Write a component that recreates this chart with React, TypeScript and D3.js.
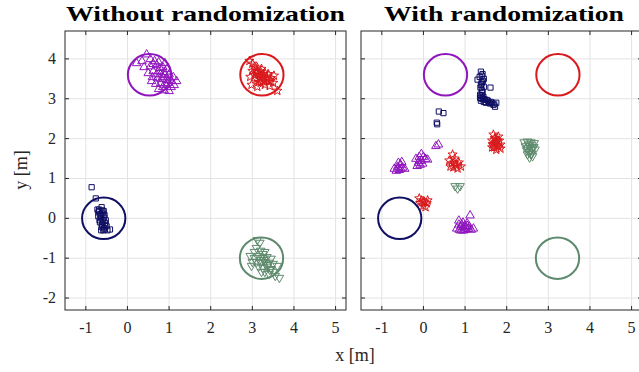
import React from 'react';
import * as d3 from 'd3';

type Pt = [number, number];

const xTicks = [-1, 0, 1, 2, 3, 4, 5];
const yTicks = [-2, -1, 0, 1, 2, 3, 4];
const titles = ['Without randomization', 'With randomization'];

// target circles (x, y) and radius [m]
const targets: { name: string; c: Pt }[] = [
  { name: 'blue', c: [-0.57, 0.0] },
  { name: 'purple', c: [0.53, 3.6] },
  { name: 'red', c: [3.23, 3.6] },
  { name: 'green', c: [3.22, -1.0] },
];
const targetRadius = 0.52;

const colors: Record<string, string> = {
  blue: '#0f0f63',
  purple: '#8f16bd',
  red: '#d9191c',
  green: '#5d8a6c',
};

// ---- without randomization ----
const blueL: Pt[] = [
  [-0.86, 0.78], [-0.76, 0.5], [-0.72, 0.22], [-0.68, 0.18], [-0.62, 0.28], [-0.58, 0.12],
  [-0.7, 0.05], [-0.64, 0.0], [-0.6, -0.05], [-0.56, 0.02], [-0.66, -0.1], [-0.6, -0.15],
  [-0.54, -0.12], [-0.62, -0.22], [-0.56, -0.25], [-0.5, -0.2], [-0.58, -0.3], [-0.48, -0.3],
  [-0.42, -0.28], [-0.7, 0.15], [-0.65, 0.1], [-0.55, 0.08], [-0.67, -0.05], [-0.52, -0.05],
  [-0.6, 0.2], [-0.63, -0.3], [-0.64, 0.06], [-0.58, -0.08], [-0.61, -0.18], [-0.53, -0.18],
  [-0.68, 0.22], [-0.57, 0.18], [-0.62, 0.12], [-0.55, -0.28],
];
const purpleL: Pt[] = [
  [0.46, 4.12], [0.22, 3.9], [0.35, 3.95], [0.55, 4.0], [0.65, 3.95], [0.75, 3.92], [0.4, 3.8],
  [0.55, 3.82], [0.7, 3.85], [0.85, 3.8], [0.95, 3.75], [0.5, 3.65], [0.62, 3.7], [0.75, 3.7],
  [0.88, 3.68], [1.0, 3.62], [1.1, 3.55], [0.6, 3.55], [0.72, 3.52], [0.85, 3.55], [0.95, 3.48],
  [1.05, 3.45], [1.18, 3.45], [0.68, 3.38], [0.8, 3.4], [0.92, 3.35], [1.05, 3.3], [0.75, 3.25],
  [0.88, 3.22], [1.0, 3.2], [0.58, 3.45], [0.8, 3.62], [0.9, 3.9], [1.12, 3.35], [0.82, 3.5],
  [0.9, 3.6], [0.98, 3.4], [0.7, 3.62], [0.78, 3.78], [0.62, 3.88], [1.02, 3.52], [0.85, 3.3],
];
const redL: Pt[] = [
  [2.93, 3.95], [3.0, 3.88], [3.05, 3.8], [3.12, 3.78], [3.0, 3.7], [3.1, 3.7], [3.2, 3.68],
  [3.3, 3.65], [3.05, 3.6], [3.15, 3.6], [3.25, 3.58], [3.35, 3.55], [3.45, 3.52], [3.52, 3.58],
  [3.1, 3.5], [3.2, 3.5], [3.3, 3.45], [3.4, 3.42], [3.5, 3.4], [3.2, 3.4], [3.3, 3.35],
  [2.98, 3.35], [3.12, 3.3], [3.6, 3.2], [3.38, 3.62], [3.22, 3.75], [3.15, 3.42], [3.42, 3.32],
  [2.95, 3.55], [3.28, 3.52], [3.08, 3.65], [3.18, 3.55], [3.26, 3.62], [3.36, 3.48],
  [3.14, 3.66], [3.24, 3.44], [3.44, 3.45],
];
const greenL: Pt[] = [
  [3.12, -0.55], [3.18, -0.62], [3.1, -0.75], [3.05, -0.85], [3.2, -0.82], [3.3, -0.85],
  [2.95, -0.95], [3.05, -1.0], [3.15, -0.95], [3.25, -1.0], [3.35, -0.98], [3.45, -1.02],
  [3.0, -1.1], [3.1, -1.1], [3.2, -1.12], [3.3, -1.1], [3.4, -1.12], [3.5, -1.15], [3.15, -1.22],
  [3.25, -1.25], [3.35, -1.22], [3.45, -1.28], [3.3, -1.35], [3.4, -1.4], [3.5, -1.35],
  [3.65, -1.5], [3.55, -1.45], [2.98, -1.2], [3.22, -1.35], [3.6, -1.2], [3.28, -1.05],
  [3.38, -1.18], [3.18, -1.05], [3.42, -1.3], [3.25, -0.9],
];

// ---- with randomization ----
const blueR: Pt[] = [
  [1.38, 3.68], [1.42, 3.62], [1.35, 3.55], [1.45, 3.5], [1.3, 3.48], [1.4, 3.42], [1.38, 3.35],
  [1.45, 3.3], [1.61, 3.28], [1.4, 3.22], [1.42, 3.15], [1.36, 3.1], [1.44, 3.05], [1.4, 3.0],
  [1.48, 2.98], [1.55, 2.95], [1.5, 2.9], [1.6, 2.88], [1.68, 2.85], [1.72, 2.8], [1.75, 2.9],
  [1.38, 2.95], [1.45, 2.92], [1.62, 2.92], [1.4, 3.58], [1.43, 3.45], [1.37, 3.28],
  [1.41, 3.18], [1.39, 3.08], [1.43, 3.0], [1.52, 2.97], [1.58, 2.9], [1.65, 2.9], [1.7, 2.86],
  [1.46, 2.98], [1.4, 3.38], [1.36, 3.02],
  [0.37, 2.68], [0.48, 2.64], [0.32, 2.4], [0.33, 2.36],
];
const purpleR: Pt[] = [
  [-0.7, 1.25], [-0.62, 1.3], [-0.55, 1.35], [-0.65, 1.2], [-0.5, 1.28], [-0.58, 1.22],
  [-0.45, 1.25], [-0.6, 1.4], [-0.52, 1.42], [-0.6, 1.28], [-0.54, 1.25],
  [-0.18, 1.5], [-0.1, 1.55], [-0.05, 1.62], [0.0, 1.55], [-0.12, 1.4], [-0.05, 1.45],
  [0.05, 1.5], [-0.15, 1.32], [-0.08, 1.35], [0.1, 1.48], [-0.1, 1.45], [-0.02, 1.38],
  [0.3, 1.82], [0.36, 1.86],
  [0.8, -0.25], [0.85, -0.15], [0.9, -0.2], [0.95, -0.1], [1.0, -0.18], [1.05, -0.12],
  [1.1, -0.2], [0.9, -0.3], [1.0, -0.28], [1.15, -0.28], [1.2, -0.25], [1.12, 0.08],
  [0.85, -0.05], [0.97, -0.22], [0.92, -0.15], [1.02, -0.22], [1.08, -0.26], [0.86, -0.28],
  [0.96, -0.3], [1.05, -0.18],
];
const redR: Pt[] = [
  [0.62, 1.45], [0.7, 1.6], [0.75, 1.5], [0.68, 1.38], [0.78, 1.35], [0.85, 1.4], [0.72, 1.28],
  [0.82, 1.25], [0.9, 1.3], [0.65, 1.3], [0.74, 1.4], [0.8, 1.32],
  [-0.1, 0.5], [-0.05, 0.45], [0.02, 0.42], [0.08, 0.38], [0.0, 0.32], [0.05, 0.28],
  [-0.08, 0.38], [0.1, 0.45], [0.0, 0.4],
  [1.68, 2.1], [1.72, 2.02], [1.65, 1.95], [1.75, 1.92], [1.82, 1.95], [1.7, 1.85], [1.78, 1.82],
  [1.85, 1.85], [1.65, 1.78], [1.75, 1.72], [1.85, 1.75], [1.8, 2.05], [1.72, 1.9],
  [1.78, 1.95], [1.7, 1.78], [1.8, 1.8], [1.74, 1.98], [1.66, 1.86],
];
const greenR: Pt[] = [
  [2.42, 1.9], [2.5, 1.92], [2.58, 1.9], [2.66, 1.88], [2.45, 1.8], [2.55, 1.8], [2.65, 1.78],
  [2.48, 1.7], [2.58, 1.7], [2.68, 1.72], [2.5, 1.6], [2.6, 1.62], [2.55, 1.52], [2.62, 1.55],
  [2.52, 1.85], [2.6, 1.84], [2.5, 1.75], [2.62, 1.75], [2.54, 1.65], [2.58, 1.6],
  [0.76, 0.8], [0.88, 0.8], [0.82, 0.74],
];

const panels = [
  { blue: blueL, purple: purpleL, red: redL, green: greenL },
  { blue: blueR, purple: purpleR, red: redR, green: greenR },
];

const W = 639;
const H = 372;
const panelX: [number, number][] = [[65, 346], [361, 642]];
const top = 31;
const bottom = 310;
const font = "'Liberation Serif', 'DejaVu Serif', serif";

function markerPath(kind: string): string {
  if (kind === 'blue') return 'M-2.6,-2.6H2.6V2.6H-2.6Z';
  if (kind === 'purple') return 'M0,-4.6L4.3,2.8H-4.3Z';
  if (kind === 'green') return 'M0,4.6L4.3,-2.8H-4.3Z';
  // pentagram
  const pts: string[] = [];
  for (let i = 0; i < 10; i++) {
    const r = i % 2 === 0 ? 4.8 : 2.0;
    const a = -Math.PI / 2 + (i * Math.PI) / 5;
    pts.push(`${(r * Math.cos(a)).toFixed(2)},${(r * Math.sin(a)).toFixed(2)}`);
  }
  return 'M' + pts.join('L') + 'Z';
}

function Panel({ idx }: { idx: number }) {
  const [x0, x1] = panelX[idx];
  const x = d3.scaleLinear().domain([-1.5, 5.25]).range([x0, x1]);
  const y = d3.scaleLinear().domain([-2.3, 4.7]).range([bottom, top]);
  const data = panels[idx] as Record<string, Pt[]>;
  const order = ['blue', 'purple', 'red', 'green'];
  return (
    <g>
      <rect x={x0} y={top} width={x1 - x0} height={bottom - top} fill="#fff" />
      {xTicks.map(t => (
        <line key={'gx' + t} x1={x(t)} x2={x(t)} y1={top} y2={bottom} stroke="#e3e3e3" strokeWidth={1} />
      ))}
      {yTicks.map(t => (
        <line key={'gy' + t} x1={x0} x2={x1} y1={y(t)} y2={y(t)} stroke="#e3e3e3" strokeWidth={1} />
      ))}
      {order.map(k => (
        <g key={k} fill="none" stroke={colors[k]} strokeWidth={1}>
          {data[k].map((p, i) => (
            <path key={i} d={markerPath(k)} transform={`translate(${x(p[0])},${y(p[1])})`} />
          ))}
        </g>
      ))}
      {targets.map(t => (
        <ellipse
          key={t.name}
          cx={x(t.c[0])}
          cy={y(t.c[1])}
          rx={x(t.c[0] + targetRadius) - x(t.c[0])}
          ry={y(t.c[1]) - y(t.c[1] + targetRadius)}
          fill="none"
          stroke={colors[t.name]}
          strokeWidth={2}
        />
      ))}
      <rect x={x0} y={top} width={x1 - x0} height={bottom - top} fill="none" stroke="#262626" strokeWidth={1} />
      {xTicks.map(t => (
        <g key={'tx' + t} stroke="#262626">
          <line x1={x(t)} x2={x(t)} y1={bottom} y2={bottom - 4} />
          <line x1={x(t)} x2={x(t)} y1={top} y2={top + 4} />
        </g>
      ))}
      {yTicks.map(t => (
        <g key={'ty' + t} stroke="#262626">
          <line x1={x0} x2={x0 + 4} y1={y(t)} y2={y(t)} />
          <line x1={x1} x2={x1 - 4} y1={y(t)} y2={y(t)} />
        </g>
      ))}
      {xTicks.map(t => (
        <text key={'lx' + t} x={x(t)} y={bottom + 23} textAnchor="middle" fontSize={16} fontFamily={font} fill="#262626">
          {t < 0 ? '-' + Math.abs(t) : t}
        </text>
      ))}
      {idx === 0 &&
        yTicks.map(t => (
          <text key={'ly' + t} x={x0 - 9} y={y(t) + 5} textAnchor="end" fontSize={16} fontFamily={font} fill="#262626">
            {t < 0 ? '-' + Math.abs(t) : t}
          </text>
        ))}
      <text
        x={(x0 + Math.min(x1, W)) / 2 + (idx === 1 ? 4 : 0)}
        y={21}
        textAnchor="middle"
        fontSize={21}
        fontWeight="bold"
        fontFamily={font}
        fill="#000"
        textLength={idx === 0 ? 279 : 240}
        lengthAdjust="spacingAndGlyphs"
      >
        {titles[idx]}
      </text>
    </g>
  );
}

export default function App() {
  return (
    <svg width={W} height={H} style={{ position: 'absolute', left: 0, top: 0, background: '#fff' }}>
      <rect width={W} height={H} fill="#fff" />
      <Panel idx={0} />
      <Panel idx={1} />
      <text x={355} y={361} textAnchor="middle" fontSize={18} fontFamily={font} fill="#262626">
        x [m]
      </text>
      <text
        transform="translate(27,170) rotate(-90)"
        textAnchor="middle"
        fontSize={18}
        fontFamily={font}
        fill="#262626"
      >
        y [m]
      </text>
    </svg>
  );
}
